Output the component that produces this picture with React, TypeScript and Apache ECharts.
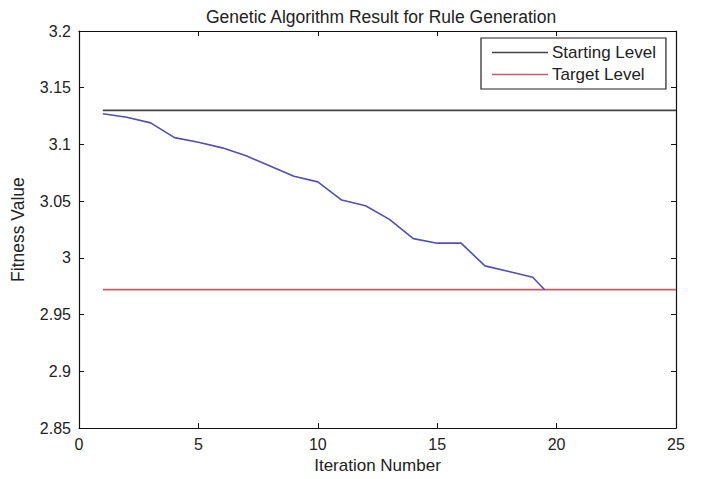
import React, { useEffect, useRef } from "react";
import * as echarts from "echarts";

const startLevel = 3.13;
const targetLevel = 2.972;
const levelX = [1, 25];
const iterX = [1, 2, 3, 4, 5, 6, 7, 8, 9, 10, 11, 12, 13, 14, 15, 16, 17, 18, 19, 19.5];
const fitnessY = [3.127, 3.124, 3.119, 3.106, 3.102, 3.097, 3.09, 3.081, 3.072, 3.067, 3.051, 3.046, 3.034, 3.017, 3.013, 3.013, 2.993, 2.988, 2.983, 2.972];

const FONT = "Liberation Sans, Arial, sans-serif";

export default function App() {
  const ref = useRef<HTMLDivElement>(null);
  useEffect(() => {
    document.body.style.margin = "0";
    const chart = echarts.init(ref.current!, undefined, { renderer: "svg" });
    const axisCommon = {
      axisLine: { show: true, onZero: false, lineStyle: { color: "#111", width: 1.2 } },
      axisTick: { show: true, inside: true, length: 5, lineStyle: { color: "#111" } },
      splitLine: { show: false },
    };
    chart.setOption({
      animation: false,
      backgroundColor: "#fff",
      title: {
        text: "Genetic Algorithm Result for Rule Generation",
        left: 201,
        top: 3,
        textStyle: { fontFamily: FONT, fontSize: 17.5, fontWeight: "normal", color: "#222" },
      },
      legend: {
        data: ["Starting Level", "Target Level"],
        orient: "vertical",
        left: 481,
        top: 38,
        borderColor: "#222",
        borderWidth: 1.2,
        borderRadius: 0,
        padding: [6, 10, 6, 11],
        itemGap: 5,
        itemWidth: 56,
        itemHeight: 1.6,
        icon: "rect",
        textStyle: { fontFamily: FONT, fontSize: 17, color: "#222", padding: [0, 0, 0, -1] },
        backgroundColor: "#fff",
      },
      grid: { left: 79, right: 31, top: 31, bottom: 43 },
      xAxis: [
        {
          type: "value",
          min: 0,
          max: 25,
          interval: 5,
          name: "Iteration Number",
          nameLocation: "middle",
          nameGap: 23,
          nameTextStyle: { fontFamily: FONT, fontSize: 17, color: "#222" },
          axisLabel: { fontFamily: FONT, fontSize: 16, color: "#222", margin: 8 },
          ...axisCommon,
        },
        {
          type: "value",
          position: "top",
          min: 0,
          max: 25,
          interval: 5,
          axisLabel: { show: false },
          ...axisCommon,
        },
      ],
      yAxis: [
        {
          type: "value",
          min: 2.85,
          max: 3.2,
          interval: 0.05,
          name: "Fitness Value",
          nameLocation: "middle",
          nameGap: 52,
          nameTextStyle: { fontFamily: FONT, fontSize: 17.5, color: "#222" },
          axisLabel: {
            fontFamily: FONT,
            fontSize: 16,
            color: "#222",
            margin: 8,
            formatter: (v: number) => String(Math.round(v * 100) / 100),
          },
          ...axisCommon,
        },
        {
          type: "value",
          position: "right",
          min: 2.85,
          max: 3.2,
          interval: 0.05,
          axisLabel: { show: false },
          ...axisCommon,
        },
      ],
      series: [
        {
          name: "Starting Level",
          type: "line",
          data: levelX.map((x) => [x, startLevel]),
          showSymbol: false,
          lineStyle: { color: "#444", width: 1.8 },
          itemStyle: { color: "#444" },
        },
        {
          name: "Target Level",
          type: "line",
          data: levelX.map((x) => [x, targetLevel]),
          showSymbol: false,
          lineStyle: { color: "#cc5a68", width: 1.8 },
          itemStyle: { color: "#cc5a68" },
        },
        {
          name: "Fitness",
          type: "line",
          data: iterX.map((x, i) => [x, fitnessY[i]]),
          showSymbol: false,
          lineStyle: { color: "#5050b4", width: 1.6 },
          itemStyle: { color: "#5050b4" },
        },
      ],
    });
    return () => chart.dispose();
  }, []);
  return <div ref={ref} style={{ width: 707, height: 479 }} />;
}
